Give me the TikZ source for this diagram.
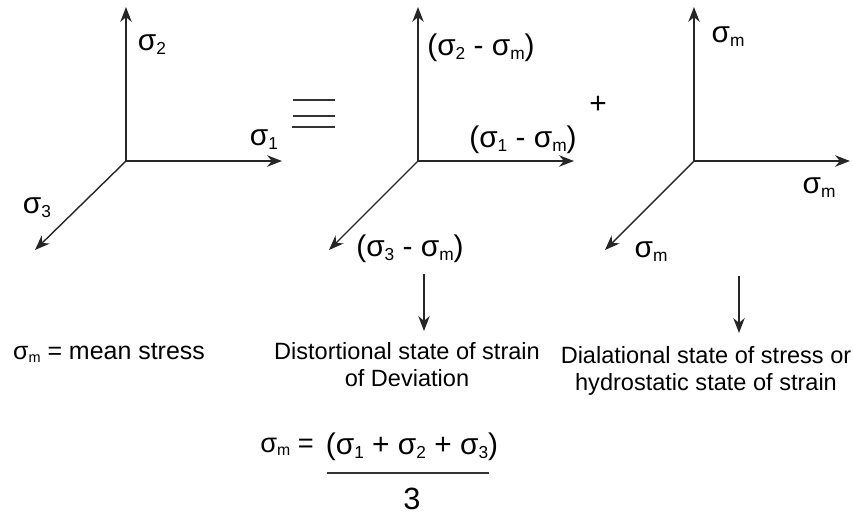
\documentclass[tikz,border=0pt]{standalone}
\usepackage{fontspec}
\setmainfont{Liberation Sans}
\usetikzlibrary{arrows.meta}
\tikzset{
  axis/.style={draw=black!85,line width=1pt,-{Stealth[length=8.5pt,width=6.5pt]}},
  diag/.style={axis,line width=0.8pt},
  bar/.style={draw=black!80,line width=0.8pt},
  lbl/.style={font=\fontsize{17}{20}\selectfont,inner sep=0pt},
  txt/.style={font=\fontsize{13.4}{15.3}\selectfont,inner sep=0pt,align=center},
}
\newcommand{\sgm}[1]{σ\raisebox{-0.25ex}{\scalebox{0.58}{#1}}}
\begin{document}
\begin{tikzpicture}[x=0.02cm,y=-0.02cm]
  \useasboundingbox (0,0) rectangle (853,514);
  % first axes
  \coordinate (o1) at (126,161);
  \coordinate (a1) at (126,7);
  \coordinate (b1) at (282,161);
  \coordinate (c1) at (35,250);
  \draw[axis] (o1) -- (a1);
  \draw[axis] (o1) -- (b1);
  \draw[diag] (o1) -- (c1);
  \node[lbl] (s2) at (152,45) {\sgm{2}};
  \node[lbl] (s1) at (264,140) {\sgm{1}};
  \node[lbl] (s3) at (37,208) {\sgm{3}};

  % equivalence bars
  \coordinate (e1) at (293,100);
  \coordinate (e2) at (335,100);
  \coordinate (e3) at (293,116);
  \coordinate (e4) at (335,116);
  \coordinate (e5) at (292,127);
  \coordinate (e6) at (335,127);
  \draw[bar] (e1) -- (e2);
  \draw[bar] (e3) -- (e4);
  \draw[bar] (e5) -- (e6);

  % second axes
  \coordinate (o2) at (418,161);
  \coordinate (a2) at (418,7);
  \coordinate (b2) at (574,161);
  \coordinate (c2) at (329,250);
  \draw[axis] (o2) -- (a2);
  \draw[axis] (o2) -- (b2);
  \draw[diag] (o2) -- (c2);
  \node[lbl] (d2) at (481,48) {(\sgm{2} - \sgm{m})};
  \node[lbl] (d1) at (523,140) {(\sgm{1} - \sgm{m})};
  \node[lbl] (d3) at (410,249) {(\sgm{3} - \sgm{m})};
  \node[lbl] (plus) at (598,105) {+};

  % third axes
  \coordinate (o3) at (694,161);
  \coordinate (a3) at (694,7);
  \coordinate (b3) at (850,161);
  \coordinate (c3) at (605,250);
  \draw[axis] (o3) -- (a3);
  \draw[axis] (o3) -- (b3);
  \draw[diag] (o3) -- (c3);
  \node[lbl] (m2) at (728,37) {\sgm{m}};
  \node[lbl] (m1) at (819,188) {\sgm{m}};
  \node[lbl] (m3) at (651,252) {\sgm{m}};

  % down arrows
  \coordinate (f1) at (424,274);
  \coordinate (f2) at (424,331);
  \coordinate (g1) at (739,276);
  \coordinate (g2) at (739,333);
  \draw[axis] (f1) -- (f2);
  \draw[axis] (g1) -- (g2);

  % texts
  \node[txt,font=\fontsize{14.2}{16}\selectfont] (mean) at (109,353) {\sgm{m} = mean stress};
  \node[txt] (dist) at (407,365) {Distortional state of strain\\of Deviation};
  \node[txt] (dial) at (706,371) {Dialational state of stress or\\hydrostatic state of strain};

  % formula
  \node[lbl,font=\fontsize{15.5}{18}\selectfont] (lhs) at (287,447) {\sgm{m} =};
  \node[lbl] (num) at (412,447) {(\sgm{1} + \sgm{2} + \sgm{3})};
  \node[lbl,font=\fontsize{17.5}{20}\selectfont] (den) at (412,499) {3};
  \coordinate (r1) at (327,473);
  \coordinate (r2) at (489,473);
  \draw[bar] (r1) -- (r2);
\end{tikzpicture}
\end{document}
